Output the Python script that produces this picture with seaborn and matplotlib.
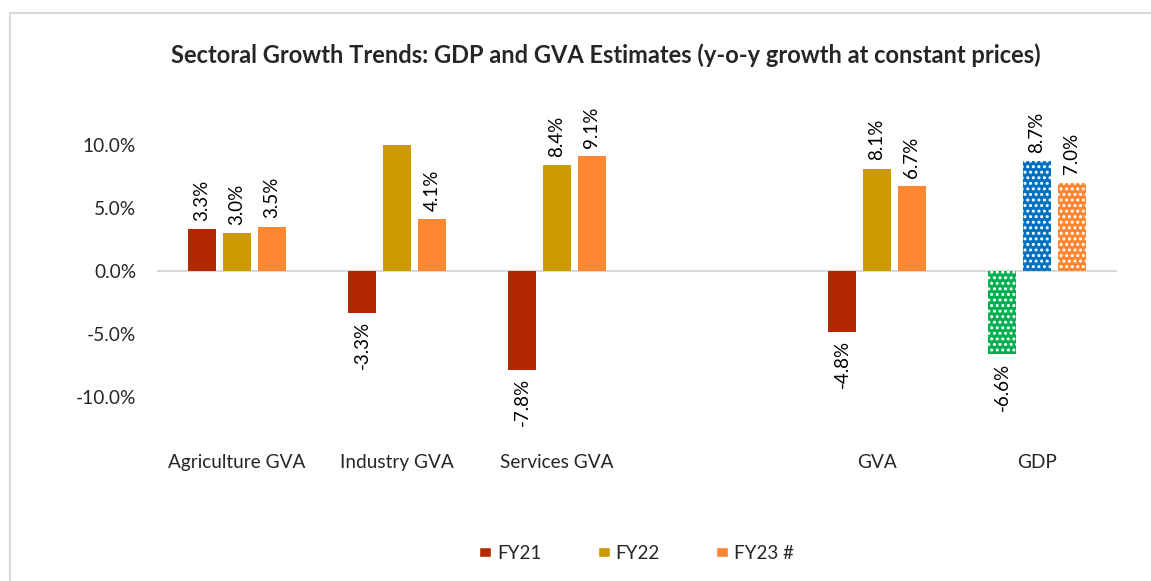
import pandas as pd
import matplotlib
matplotlib.use('Agg')
import matplotlib.pyplot as plt
from matplotlib.patches import Rectangle, Patch
import seaborn as sns

# Data
categories = ['Agriculture GVA', 'Industry GVA', 'Services GVA', ' ', 'GVA', 'GDP']
years = ['FY21', 'FY22', 'FY23 #']
fy21 = [3.3, -3.3, -7.8, None, -4.8, -6.6]
fy22 = [3.0, 10.0, 8.4, None, 8.1, 8.7]
fy23 = [3.5, 4.1, 9.1, None, 6.7, 7.0]
fy21_labels = ['3.3%', '-3.3%', '-7.8%', '', '-4.8%', '-6.6%']
fy22_labels = ['3.0%', '', '8.4%', '', '8.1%', '8.7%']
fy23_labels = ['3.5%', '4.1%', '9.1%', '', '6.7%', '7.0%']
yticks = [-10, -5, 0, 5, 10]

palette = {'FY21': '#B22800', 'FY22': '#CC9900', 'FY23 #': '#FF8630'}
gdp_colors = {'FY21': '#00B050', 'FY22': '#0070C0', 'FY23 #': '#FF8630'}

rows = []
for cat, a, b, c in zip(categories, fy21, fy22, fy23):
    for yr, v in zip(years, [a, b, c]):
        if v is not None:
            rows.append({'category': cat, 'year': yr, 'growth': v})
df = pd.DataFrame(rows)

sns.set_style('white')
plt.rcParams['font.family'] = ['Lato', 'DejaVu Sans']
plt.rcParams['hatch.linewidth'] = 1.4

fig = plt.figure(figsize=(11.51, 5.81), dpi=100)
ax = fig.add_axes([0.1364, 0.229, 0.834, 0.609])

sns.barplot(data=df, x='category', y='growth', hue='year', order=categories,
            hue_order=years, palette=palette, width=0.656, gap=0.2,
            saturation=1, errorbar=None, ax=ax, legend=False, linewidth=0)

# GDP bars get the patterned fill
gdp_idx = categories.index('GDP')
for yr, cont in zip(years, ax.containers):
    for bar in cont:
        xc = bar.get_x() + bar.get_width() / 2
        if round(xc) == gdp_idx:
            bar.set_facecolor(gdp_colors[yr])
            bar.set_edgecolor('white')
            bar.set_hatch('...')
            bar.set_linewidth(0)

# value labels
for cont, labs in zip(ax.containers, [fy21_labels, fy22_labels, fy23_labels]):
    bar_labs = []
    for bar in cont:
        xc = bar.get_x() + bar.get_width() / 2
        bar_labs.append(labs[int(round(xc))])
    ax.bar_label(cont, labels=bar_labs, rotation=90, padding=6,
                 fontsize=13.5, color='#000000')

ax.axhline(0, color='#D9D9D9', linewidth=1.5, zorder=0)
ax.set_ylim(-14, 14)
ax.set_xlim(-0.5, len(categories) - 0.5)
ax.set_yticks(yticks)
ax.set_yticklabels([f'{t:.1f}%' for t in yticks], fontsize=13.8)
ax.tick_params(axis='y', length=0, pad=15)
ax.tick_params(axis='x', length=0, pad=4, labelsize=13.7)
ax.set_xlabel('')
ax.set_ylabel('')
for s in ax.spines.values():
    s.set_visible(False)

fig.text(0.526, 0.905, 'Sectoral Growth Trends: GDP and GVA Estimates (y-o-y growth at constant prices)',
         ha='center', va='center', fontsize=17, fontweight='bold')

handles = [Patch(facecolor=palette[y], label=y) for y in years]
fig.legend(handles=handles, loc='center', bbox_to_anchor=(0.553, 0.048), ncol=3,
           frameon=False, fontsize=13.5, handlelength=0.65, handleheight=0.45,
           handletextpad=0.3, columnspacing=3.0)

fig.patches.append(Rectangle((10 / 1151, -0.02), 1.0, 1 - 13 / 581 + 0.02,
                             transform=fig.transFigure, fill=False,
                             edgecolor='#D9D9D9', linewidth=1.5))

plt.savefig('out.png', dpi=100)
